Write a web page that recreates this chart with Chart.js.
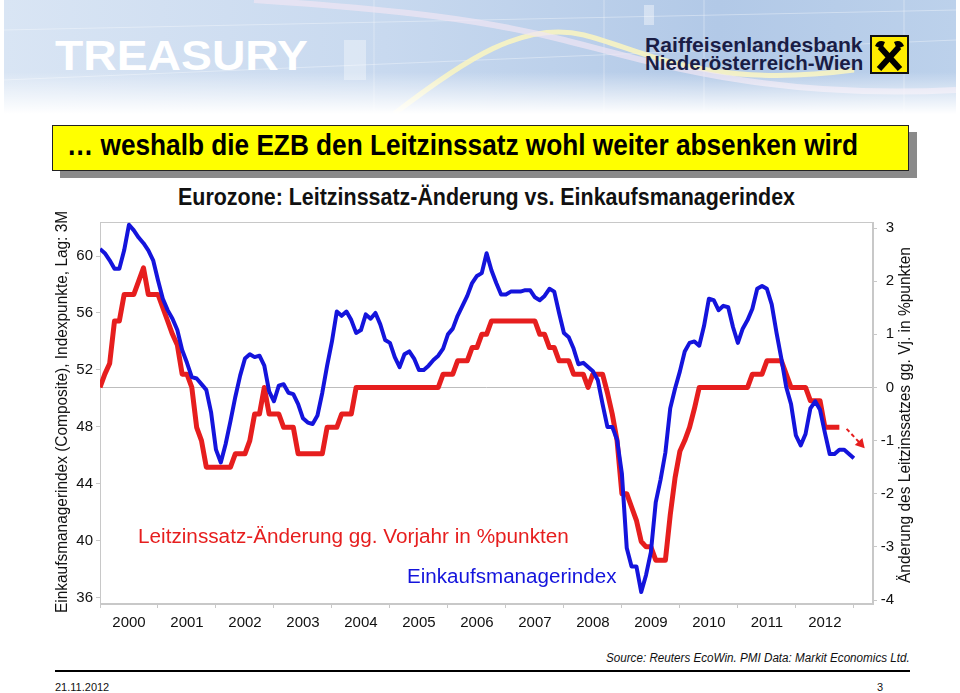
<!DOCTYPE html>
<html>
<head>
<meta charset="utf-8">
<script src="https://cdn.jsdelivr.net/npm/chart.js@4.4.1/dist/chart.umd.min.js"></script>
<style>
  html, body { margin: 0; padding: 0; background: #fff; }
  body { width: 960px; height: 693px; position: relative; overflow: hidden;
         font-family: "Liberation Sans", Arial, sans-serif; color: #111; }
  .abs { position: absolute; white-space: nowrap; }
  .fit { display: inline-block; transform-origin: left center; }
  #header { left: 4px; top: 0; width: 952px; height: 114px; overflow: hidden;
            background: linear-gradient(90deg, #d9e5f4 0%, #c8d9ef 40%, #b2c9e7 75%, #bcd1eb 100%); }
  #header .fade { position: absolute; left: 0; right: 0; bottom: 0; height: 42px;
            background: linear-gradient(180deg, rgba(255,255,255,0) 0%, #fff 100%); }
  #treasury { left: 55px; top: 31px; font-size: 43px; font-weight: bold; color: #fff; }
  .rlb { font-size: 20px; font-weight: bold; color: #1a1d45; }
  #titlebox { left: 52px; top: 125px; width: 855px; height: 44px; background: #ffff00;
              border: 1px solid #222; box-shadow: 8px 7px 0 #8a8a8a; }
  #titletext { left: 67px; top: 129px; font-size: 29px; font-weight: bold; color: #000; }
  #charttitle { left: 178px; top: 184px; font-size: 23px; font-weight: bold; color: #111; }
  #chartbox { left: 0; top: 200px; width: 960px; height: 440px; }
  .lbl { font-size: 20px; }
  .axtitle { font-size: 16px; color: #111; transform-origin: 0 0; }
  #source { left: 606px; top: 651px; font-size: 12.5px; font-style: italic; color: #111; }
  #rule { left: 55px; top: 670px; width: 855px; height: 2px; background: #000; }
  .foot { top: 681px; font-size: 11px; color: #111; }
</style>
</head>
<body>
<div id="header" class="abs">
  <svg width="952" height="114" style="position:absolute;left:0;top:0">
    <g stroke="#ffffff" stroke-opacity="0.35" stroke-width="1">
      <line x1="0" y1="30" x2="952" y2="10"/>
      <line x1="0" y1="80" x2="952" y2="40"/>
      <line x1="370" y1="0" x2="370" y2="114"/>
      <line x1="600" y1="0" x2="600" y2="114"/>
      <line x1="700" y1="0" x2="700" y2="114"/>
      <line x1="900" y1="0" x2="900" y2="114"/>
    </g>
    <rect x="340" y="40" width="22" height="40" fill="#ffffff" fill-opacity="0.35"/>
    <rect x="640" y="5" width="10" height="20" fill="#ffffff" fill-opacity="0.4"/>
    <path d="M 390 114 C 460 60, 520 20, 580 35 S 700 90, 850 70" fill="none" stroke="#fbf6c0" stroke-opacity="0.85" stroke-width="5"/>
    <path d="M 250 0 C 400 10, 480 20, 560 40 S 760 100, 952 90" fill="none" stroke="#efe6f4" stroke-opacity="0.7" stroke-width="6"/>
  </svg>
  <div class="fade"></div>
</div>
<div id="treasury" class="abs"><span class="fit" data-w="253">TREASURY</span></div>
<div class="abs rlb" style="left:645px;top:34px"><span class="fit" data-w="218">Raiffeisenlandesbank</span></div>
<div class="abs rlb" style="left:645px;top:52px"><span class="fit" data-w="218">Niederösterreich-Wien</span></div>
<svg class="abs" style="left:870px;top:35px" width="39" height="39">
  <rect x="1" y="1" width="37" height="37" fill="#ffec00" stroke="#111" stroke-width="2"/>
  <g stroke="#000" stroke-width="6" stroke-linecap="butt">
    <line x1="10" y1="12" x2="30" y2="34"/>
    <line x1="29" y1="12" x2="9" y2="34"/>
  </g>
  <path d="M 5 11 Q 8 4 15 7 L 12 14 Z M 34 11 Q 31 4 24 7 L 27 14 Z" fill="#000"/>
</svg>

<div id="titlebox" class="abs"></div>
<div id="titletext" class="abs"><span class="fit" data-w="791">… weshalb die EZB den Leitzinssatz wohl weiter absenken wird</span></div>
<div id="charttitle" class="abs"><span class="fit" data-w="617">Eurozone: Leitzinssatz-Änderung vs. Einkaufsmanagerindex</span></div>

<div id="chartbox" class="abs"><canvas id="chart" width="960" height="440"></canvas></div>

<div class="abs lbl" style="left:138px;top:525px;color:#e61e1e"><span class="fit" data-w="431">Leitzinssatz-Änderung gg. Vorjahr in %punkten</span></div>
<div class="abs lbl" style="left:407px;top:565px;color:#1414dc"><span class="fit" data-w="209">Einkaufsmanagerindex</span></div>

<div class="abs axtitle" style="left:53px;top:613px;transform:rotate(-90deg)"><span class="fit" data-w="402">Einkaufsmanagerindex (Composite), Indexpunkte, Lag: 3M</span></div>
<div class="abs axtitle" style="left:896px;top:583px;transform:rotate(-90deg)"><span class="fit" data-w="336">Änderung des Leitzinssatzes gg. Vj. in %punkten</span></div>

<div id="source" class="abs"><span class="fit" data-w="304">Source: Reuters EcoWin. PMI Data: Markit Economics Ltd.</span></div>
<div id="rule" class="abs"></div>
<div class="abs foot" style="left:55px">21.11.2012</div>
<div class="abs foot" style="left:877px">3</div>

<script>
// monthly data, first value = Jan 2000
const startYear = 2000;

// Einkaufsmanagerindex (Composite), lagged 3M
const pmi = [
  60.5, 60.2, 59.7, 59.1, 59.1, 60.4, 62.2, 61.8, 61.3, 60.9, 60.4, 59.7,
  58.3, 57.0, 56.2, 55.6, 54.8, 53.4, 52.5, 51.5, 51.4, 51.0, 50.6, 49.0,
  46.4, 45.5, 46.8, 48.4, 50.1, 51.6, 52.8, 53.1, 52.9, 53.0, 52.3, 50.5,
  49.8, 50.9, 51.0, 50.4, 50.3, 49.6, 48.6, 48.3, 48.2, 48.8, 50.4, 52.3,
  54.0, 56.1, 55.8, 56.1, 55.5, 54.6, 54.8, 55.9, 55.6, 56.0, 55.2, 54.1,
  53.9, 52.9, 52.2, 53.1, 53.3, 52.8, 52.0, 52.0, 52.3, 52.7, 53.0, 53.5,
  54.5, 54.9, 55.8, 56.5, 57.2, 58.1, 58.6, 58.8, 60.2, 59.0, 58.1, 57.3,
  57.3, 57.5, 57.5, 57.5, 57.6, 57.6, 57.1, 56.9, 57.2, 57.7, 57.5, 56.0,
  54.6, 54.3, 53.5, 52.4, 52.5, 52.2, 51.9, 51.3, 49.6, 48.0, 48.0, 47.1,
  44.7, 39.5, 38.2, 38.2, 36.4, 37.6, 39.2, 42.7, 44.3, 46.2, 49.3, 50.7,
  51.9, 53.3, 53.9, 54.0, 53.7, 55.1, 57.0, 56.9, 56.2, 56.5, 56.4, 55.0,
  53.9, 54.9, 55.5, 56.3, 57.7, 57.9, 57.7, 56.6, 54.6, 52.8, 50.8, 49.6,
  47.4, 46.7, 47.5, 49.3, 49.8, 49.2, 47.6, 46.1, 46.1, 46.4, 46.4, 46.1,
  45.8
];

// Leitzinssatz-Änderung gg. Vorjahr in %punkten
const rateChange = [
  0.0, 0.25, 0.45, 1.25, 1.25, 1.75, 1.75, 1.75, 2.0, 2.25, 1.75, 1.75,
  1.75, 1.5, 1.25, 1.0, 0.8, 0.25, 0.25, 0.0, -0.75, -1.0, -1.5, -1.5,
  -1.5, -1.5, -1.5, -1.5, -1.25, -1.25, -1.25, -1.0, -0.5, -0.5, 0.0, -0.5,
  -0.5, -0.5, -0.75, -0.75, -0.75, -1.25, -1.25, -1.25, -1.25, -1.25, -1.25, -0.75,
  -0.75, -0.75, -0.5, -0.5, -0.5, 0, 0, 0, 0, 0, 0, 0,
  0, 0, 0, 0, 0, 0, 0, 0, 0, 0, 0, 0.25,
  0.25, 0.25, 0.5, 0.5, 0.5, 0.75, 0.75, 1.0, 1.0, 1.25, 1.25, 1.25,
  1.25, 1.25, 1.25, 1.25, 1.25, 1.25, 1.25, 1.0, 1.0, 0.75, 0.75, 0.5,
  0.5, 0.5, 0.25, 0.25, 0.25, 0.0, 0.25, 0.25, 0.25, -0.1, -0.5, -1.0,
  -2.0, -2.0, -2.25, -2.5, -2.9, -3.0, -3.0, -3.25, -3.25, -3.25, -2.4, -1.7,
  -1.2, -1.0, -0.75, -0.4, 0, 0, 0, 0, 0, 0, 0, 0,
  0, 0, 0, 0.25, 0.25, 0.25, 0.5, 0.5, 0.5, 0.5, 0.25, 0.0,
  0, 0, 0, -0.25, -0.25, -0.25, -0.75, -0.75, -0.75, -0.75
];

// expected further cut (dashed arrow), months since Jan 2000
const arrowMonths = [154.5, 157.4];
const arrowValues = [-0.78, -1.06];

const yearTicks = [2000, 2001, 2002, 2003, 2004, 2005, 2006, 2007, 2008, 2009, 2010, 2011, 2012, 2013];
const pmiTicks = [36, 40, 44, 48, 52, 56, 60];
const rateTicks = [-4, -3, -2, -1, 0, 1, 2, 3];

const toPoints = (vals, months) => vals.map((v, i) => ({
  x: startYear + (months ? months[i] : i) / 12, y: v
}));

// scale text blocks to the measured widths of the slide (offsetWidth ignores the rotation)
document.querySelectorAll('.fit').forEach(el => {
  const w = el.offsetWidth;
  el.style.transform = 'scaleX(' + (el.dataset.w / w) + ')';
});

const frame = {
  id: 'frame',
  beforeDatasetsDraw(chart) {
    const a = chart.chartArea, ctx = chart.ctx;
    ctx.save();
    ctx.strokeStyle = '#c8c8c8';
    ctx.lineWidth = 1;
    ctx.strokeRect(a.left + 0.5, a.top + 0.5, a.right - a.left - 1, a.bottom - a.top - 1);
    ctx.restore();
  }
};

const tickFont = { family: '"Liberation Sans", Arial, sans-serif', size: 15 };

new Chart(document.getElementById('chart'), {
  type: 'line',
  data: {
    datasets: [{
      label: 'Einkaufsmanagerindex',
      data: toPoints(pmi),
      yAxisID: 'y',
      borderColor: '#1414dc',
      borderWidth: 4,
      pointRadius: 0,
      borderJoinStyle: 'round',
      order: 0
    }, {
      label: 'Leitzinssatz-Änderung',
      data: toPoints(rateChange),
      yAxisID: 'y1',
      borderColor: '#e61e1e',
      borderWidth: 5,
      pointRadius: 0,
      borderJoinStyle: 'round',
      order: 1
    }, {
      label: 'Erwartung',
      data: toPoints(arrowValues, arrowMonths),
      yAxisID: 'y1',
      borderColor: '#e61e1e',
      backgroundColor: '#e61e1e',
      borderWidth: 2,
      borderDash: [4, 3],
      pointStyle: 'triangle',
      pointRadius: [0, 4],
      pointRotation: 137,
      order: 2
    }]
  },
  options: {
    responsive: false,
    animation: false,
    events: [],
    layout: { padding: { top: 22, left: 60, right: 66, bottom: 0 } },
    plugins: { legend: { display: false }, tooltip: { enabled: false } },
    scales: {
      x: {
        type: 'linear',
        min: 2000,
        max: 2013.33,
        afterBuildTicks: s => { s.ticks = yearTicks.map(v => ({ value: v })); },
        afterFit: s => { s.height = 36; },
        grid: { drawOnChartArea: false, tickLength: 4, tickColor: '#c8c8c8' },
        border: { color: '#c8c8c8' },
        ticks: {
          autoSkip: false, maxRotation: 0, labelOffset: 29, padding: 6,
          color: '#111', font: tickFont,
          callback: v => v < 2013 ? String(v) : ''
        }
      },
      y: {
        position: 'left',
        min: 35.56,
        max: 62.39,
        afterBuildTicks: s => { s.ticks = pmiTicks.map(v => ({ value: v })); },
        afterFit: s => { s.width = 40; },
        grid: { drawOnChartArea: false, tickLength: 4, tickColor: '#c8c8c8' },
        border: { color: '#c8c8c8' },
        ticks: { padding: 3, color: '#111', font: tickFont }
      },
      y1: {
        position: 'right',
        min: -4.075,
        max: 3.113,
        afterBuildTicks: s => { s.ticks = rateTicks.map(v => ({ value: v })); },
        afterFit: s => { s.width = 21; },
        grid: {
          tickLength: 4,
          tickColor: '#c8c8c8',
          color: c => (c.tick && c.tick.value === 0) ? '#bdbdbd' : 'rgba(0,0,0,0)'
        },
        border: { color: '#c8c8c8' },
        ticks: { crossAlign: 'far', color: '#111', font: tickFont }
      }
    }
  },
  plugins: [frame]
});
</script>
</body>
</html>
